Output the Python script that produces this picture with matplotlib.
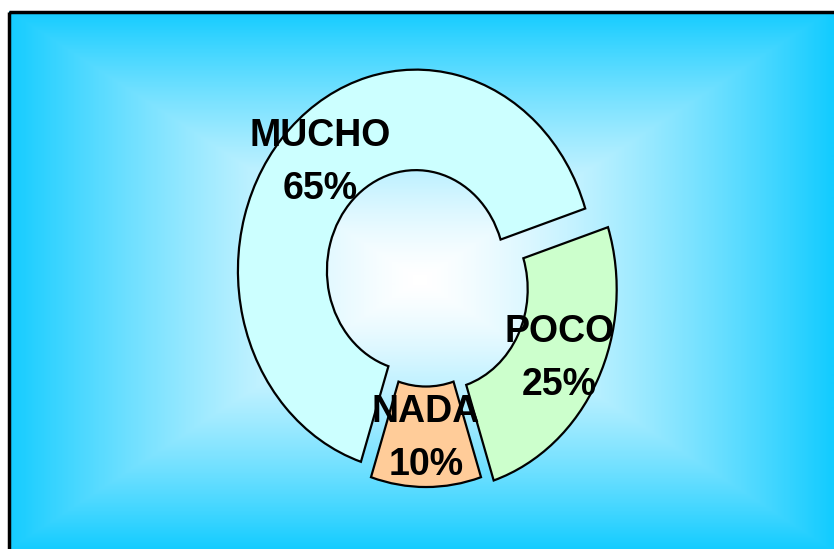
import numpy as np
import matplotlib.pyplot as plt
from matplotlib.colors import LinearSegmentedColormap
from matplotlib.patches import Rectangle

# data
categories = ['MUCHO', 'NADA', 'POCO']
values = [65, 10, 25]
colors = ['#CCFFFF', '#FFCC99', '#CCFFCC']
explode = [0.08, 0.02, 0.08]

W, H = 834, 549
fig = plt.figure(figsize=(W / 100, H / 100), dpi=100)

# background: rectangular "from centre" gradient, white -> cyan
bg = fig.add_axes([0, 0, 1, 1])
bg.set_xlim(0, W)
bg.set_ylim(H, 0)
bg.axis('off')
cx, cy, hw, hh = 420, 280, 412, 270
xx, yy = np.meshgrid(np.arange(9, W + 1), np.arange(11, H + 1))
t = np.maximum(np.abs(xx - cx) / hw, np.abs(yy - cy) / hh).clip(0, 1) ** 1.4
cmap = LinearSegmentedColormap.from_list('bg', ['#FFFFFF', '#14CCFF'])
bg.imshow(t, cmap=cmap, vmin=0, vmax=1, extent=(9, W, H, 11),
          interpolation='bilinear', aspect='auto')
bg.add_patch(Rectangle((9.5, 11.5), W + 20, H + 20, fill=False,
                       edgecolor='black', linewidth=2.5))

# donut
ax = fig.add_axes([0, 0, 1, 1])
ax.patch.set_alpha(0)
px_c, py_c, rx, ry = 426, 282, 178, 201

labels = [f'{c}\n{v}%' for c, v in zip(categories, values)]
wedges, texts = ax.pie(values, labels=labels, colors=colors, explode=explode,
                       startangle=18, counterclock=True, labeldistance=0.76,
                       wedgeprops=dict(width=0.5, edgecolor='black', linewidth=1.6),
                       textprops=dict(fontsize=27, fontweight='bold',
                                      family='Liberation Sans', color='black',
                                      linespacing=1.6),
                       frame=True)
for txt in texts:
    txt.set_ha('center')
    txt.set_va('center')
ax.axis('off')
ax.set_aspect('auto')
ax.set_xlim(-px_c / rx, (W - px_c) / rx)
ax.set_ylim((py_c - H) / ry, py_c / ry)

fig.savefig('out.png', dpi=100)
